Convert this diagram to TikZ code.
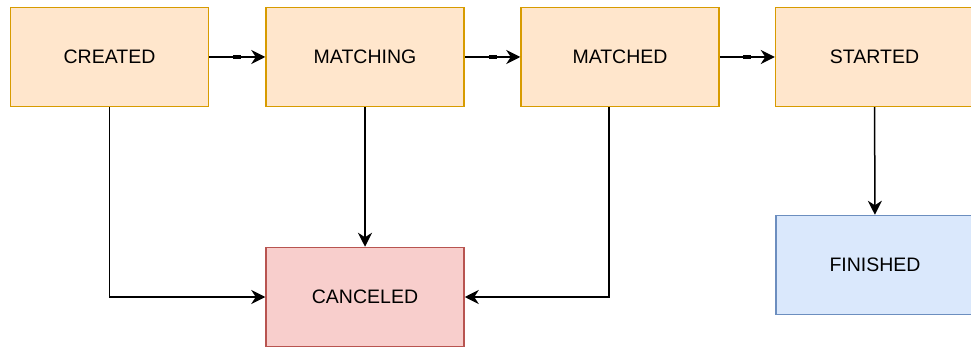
\documentclass[tikz,border=0pt]{standalone}
\usepackage{fontspec}
\setmainfont{Liberation Sans}
\usetikzlibrary{arrows.meta}
\definecolor{orgfill}{HTML}{FFE6CC}
\definecolor{orgline}{HTML}{D79B00}
\definecolor{redfill}{HTML}{F8CECC}
\definecolor{redline}{HTML}{B85450}
\definecolor{bluefill}{HTML}{DAE8FC}
\definecolor{blueline}{HTML}{6C8EBF}
\tikzset{
  state/.style={draw, line width=1.5pt, minimum width=198pt, minimum height=99pt,
    inner sep=0pt, font=\fontsize{19.5}{23}\selectfont},
  active/.style={state, fill=orgfill, draw=orgline},
  cancel/.style={state, fill=redfill, draw=redline},
  done/.style={state, fill=bluefill, draw=blueline},
  flow/.style={line width=1.5pt, -{Stealth[length=14pt,width=14pt,inset=4.5pt]}},
  tickmark/.style={fill=black}
}
\begin{document}
\begin{tikzpicture}[x=1pt,y=-1pt]
  \useasboundingbox (0,0) rectangle (971,347);
  \clip (0,0) rectangle (971,347);

  % states
  \node[active] (created)  at (109.5,57) {CREATED};
  \node[active] (matching) at (365,57)   {MATCHING};
  \node[active] (matched)  at (620,57)   {MATCHED};
  \node[active] (started)  at (874.5,57) {STARTED};
  \node[done]   (finished) at (875,265)  {FINISHED};
  \node[cancel] (canceled) at (365,297)  {CANCELED};

  % main sequence, each edge with a small mark at its middle
  \draw[flow] (created) -- coordinate[midway] (m1) (matching);
  \draw[flow] (matching) -- coordinate[midway] (m2) (matched);
  \draw[flow] (matched) -- coordinate[midway] (m3) (started);
  \foreach \m in {m1,m2,m3}
    \fill[tickmark] (\m) ++(-4,-1.6) rectangle ++(8,3.2);
  \draw[flow] (started) -- (finished);

  % cancellation paths
  \draw[flow] (created.south) |- (canceled.west);
  \draw[flow] (matching) -- (canceled);
  \draw[flow] (matched.south -| 609,0) |- (canceled.east);
\end{tikzpicture}
\end{document}
